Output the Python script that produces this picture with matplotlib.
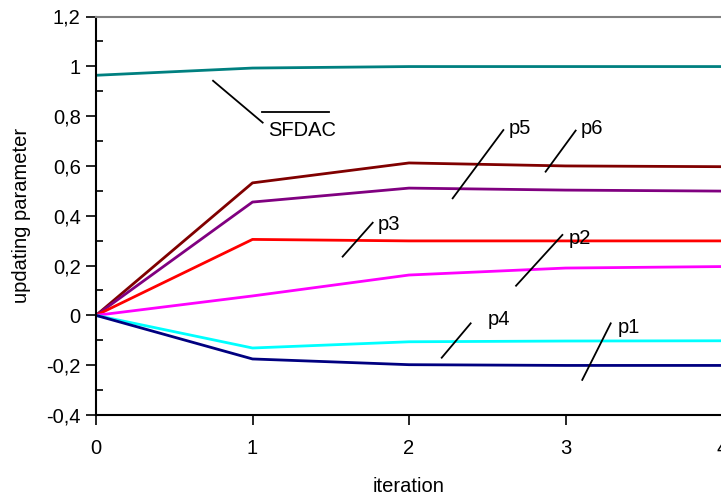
import numpy as np
import matplotlib.pyplot as plt
from matplotlib.ticker import FuncFormatter, MultipleLocator

plt.rcParams['font.family'] = ['Liberation Sans', 'DejaVu Sans']

iteration = [0, 1, 2, 3, 4]
sfdac = [0.964, 0.993, 0.999, 0.999, 0.999]
p1 = [0, -0.175, -0.198, -0.201, -0.201]
p2 = [0, 0.078, 0.162, 0.19, 0.196]
p3 = [0, 0.305, 0.299, 0.299, 0.299]
p4 = [0, -0.131, -0.106, -0.103, -0.102]
p5 = [0, 0.455, 0.511, 0.503, 0.499]
p6 = [0, 0.532, 0.612, 0.600, 0.597]

fs = 14.5

fig = plt.figure(figsize=(7.21, 4.95), dpi=100)
ax = fig.add_axes([96/721, 1-415/495, 626/721, (415-16.5)/495])

lw = 2.0
ax.plot(iteration, sfdac, color='#008080', lw=lw)
ax.plot(iteration, p6, color='#800000', lw=lw)
ax.plot(iteration, p5, color='#800080', lw=lw)
ax.plot(iteration, p3, color='#FF0000', lw=lw)
ax.plot(iteration, p2, color='#FF00FF', lw=lw)
ax.plot(iteration, p4, color='#00FFFF', lw=lw)
ax.plot(iteration, p1, color='#000080', lw=lw)

# leader lines and labels
k = dict(color='black', lw=1.3)
ax.plot([0.748, 1.065], [0.942, 0.774], **k)
ax.plot([1.059, 1.489], [0.817, 0.817], **k)
ax.text(1.099, 0.744, 'SFDAC', fontsize=fs, va='center')
ax.plot([2.603, 2.279], [0.744, 0.470], **k)
ax.text(2.635, 0.751, 'p5', fontsize=fs, va='center')
ax.plot([3.065, 2.873], [0.742, 0.577], **k)
ax.text(3.099, 0.752, 'p6', fontsize=fs, va='center')
ax.plot([1.768, 1.576], [0.372, 0.236], **k)
ax.text(1.80, 0.363, 'p3', fontsize=fs, va='center')
ax.plot([2.98, 2.684], [0.323, 0.119], **k)
ax.text(3.018, 0.31, 'p2', fontsize=fs, va='center')
ax.plot([2.394, 2.209], [-0.032, -0.17], **k)
ax.text(2.50, -0.016, 'p4', fontsize=fs, va='center')
ax.plot([3.289, 3.107], [-0.032, -0.259], **k)
ax.text(3.331, -0.049, 'p1', fontsize=fs, va='center')

ax.set_xlim(0, 4)
ax.set_ylim(-0.4, 1.2)
ax.xaxis.set_major_locator(MultipleLocator(1))
ax.yaxis.set_major_locator(MultipleLocator(0.2))
ax.yaxis.set_minor_locator(MultipleLocator(0.1))

def comma(v, pos):
    s = '%g' % round(v, 2)
    return s.replace('.', ',')
ax.yaxis.set_major_formatter(FuncFormatter(comma))
ax.xaxis.set_major_formatter(FuncFormatter(comma))

ax.tick_params(axis='both', which='major', direction='out', length=7, width=1.2, labelsize=fs)
ax.tick_params(axis='x', which='major', pad=10)
ax.tick_params(axis='y', which='major', pad=4)
ax.tick_params(axis='y', which='minor', direction='in', length=5, width=1.2)

ax.spines['left'].set_linewidth(1.5)
ax.spines['bottom'].set_linewidth(1.5)
ax.spines['top'].set_color('gray')
ax.spines['top'].set_linewidth(1.5)
ax.spines['right'].set_visible(False)

ax.set_xlabel('iteration', fontsize=fs, labelpad=14)
ax.set_ylabel('updating parameter', fontsize=fs, labelpad=11)

fig.savefig('out.png', dpi=100)
